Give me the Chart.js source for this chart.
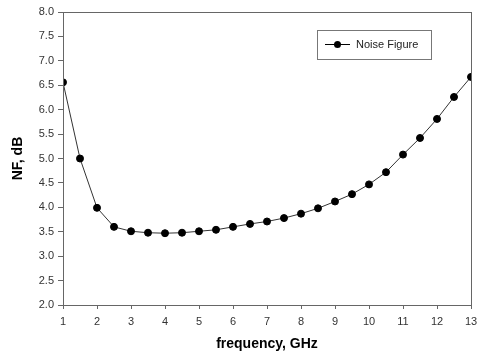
<!DOCTYPE html>
<html>
<head>
<meta charset="utf-8">
<script src="https://cdn.jsdelivr.net/npm/chart.js@4"></script>
<style>
	html, body { margin: 0; padding: 0; background: #fff; }
	#wrap { width: 478px; height: 355px; }
</style>
</head>
<body>
<div id="wrap"><canvas id="nf"></canvas></div>
<script>
const freqs = [1, 1.5, 2, 2.5, 3, 3.5, 4, 4.5, 5, 5.5, 6, 6.5, 7, 7.5, 8, 8.5, 9, 9.5, 10, 10.5, 11, 11.5, 12, 12.5, 13];
const noiseFigure = [6.56, 5.0, 3.99, 3.6, 3.51, 3.48, 3.47, 3.48, 3.51, 3.54, 3.6, 3.66, 3.71, 3.78, 3.87, 3.98, 4.12, 4.27, 4.47, 4.72, 5.08, 5.42, 5.81, 6.26, 6.67];
const seriesLabel = 'Noise Figure';

// frame round the plot + boxed legend like the original
const framePlugin = {
	id: 'frame',
	afterDraw(chart) {
		let ctx = chart.ctx;
		let a = chart.chartArea;
		ctx.save();
		ctx.strokeStyle = '#666';
		ctx.lineWidth = 1;
		ctx.strokeRect(Math.round(a.left) + 0.5, Math.round(a.top) + 0.5, Math.round(a.right - a.left), Math.round(a.bottom - a.top));

		// legend
		ctx.strokeStyle = '#777';
		ctx.strokeRect(317.5, 30.5, 114, 29);
		ctx.strokeStyle = '#000';
		ctx.beginPath();
		ctx.moveTo(325, 44.5);
		ctx.lineTo(350, 44.5);
		ctx.stroke();
		ctx.fillStyle = '#000';
		ctx.beginPath();
		ctx.arc(337.5, 44.5, 3.5, 0, Math.PI * 2);
		ctx.fill();
		ctx.font = '11px "Liberation Sans", Arial, sans-serif';
		ctx.fillStyle = '#222';
		ctx.textBaseline = 'middle';
		ctx.fillText(seriesLabel, 356, 44.5);
		ctx.restore();
	}
};

let chartID = document.getElementById('nf');
new Chart(chartID, {
	type: 'line',
	data: {
		labels: freqs,
		datasets: [{
			label: seriesLabel,
			data: freqs.map((f, i) => ({ x: f, y: noiseFigure[i] })),
			borderColor: '#333',
			borderWidth: 1,
			backgroundColor: '#000',
			pointBackgroundColor: '#000',
			pointBorderColor: '#000',
			pointRadius: 3.5,
			tension: 0,
			fill: false
		}]
	},
	options: {
		responsive: true,
		maintainAspectRatio: false,
		animation: false,
		layout: { padding: { top: 12, right: 7, left: 0, bottom: 0 } },
		plugins: {
			legend: { display: false },
			tooltip: { enabled: false }
		},
		scales: {
			x: {
				type: 'linear',
				min: 1,
				max: 13,
				afterFit: (s) => { s.height = 50; s.paddingRight = 0; s.paddingLeft = 0; },
				ticks: {
					stepSize: 1,
					color: '#333',
					padding: 6,
					font: { family: '"Liberation Sans", Arial', size: 11 }
				},
				grid: { drawOnChartArea: false, drawTicks: true, tickLength: 4, color: '#666' },
				border: { color: '#666' },
				title: {
					display: true,
					text: 'frequency, GHz',
					color: '#000',
					padding: { top: 0, bottom: 2 },
					font: { family: '"Liberation Sans", Arial', size: 14, weight: 'bold' }
				}
			},
			y: {
				min: 2,
				max: 8,
				afterFit: (s) => { s.width = 63; s.paddingTop = 0; s.paddingBottom = 0; },
				ticks: {
					stepSize: 0.5,
					color: '#333',
					padding: 4,
					font: { family: '"Liberation Sans", Arial', size: 11 },
					callback: (v) => v.toFixed(1)
				},
				grid: { drawOnChartArea: false, drawTicks: true, tickLength: 5, color: '#666' },
				border: { color: '#666' },
				title: {
					display: true,
					text: 'NF, dB',
					color: '#000',
					padding: { top: 10, bottom: 0 },
					font: { family: '"Liberation Sans", Arial', size: 14, weight: 'bold' }
				}
			}
		}
	},
	plugins: [framePlugin]
});
</script>
</body>
</html>
